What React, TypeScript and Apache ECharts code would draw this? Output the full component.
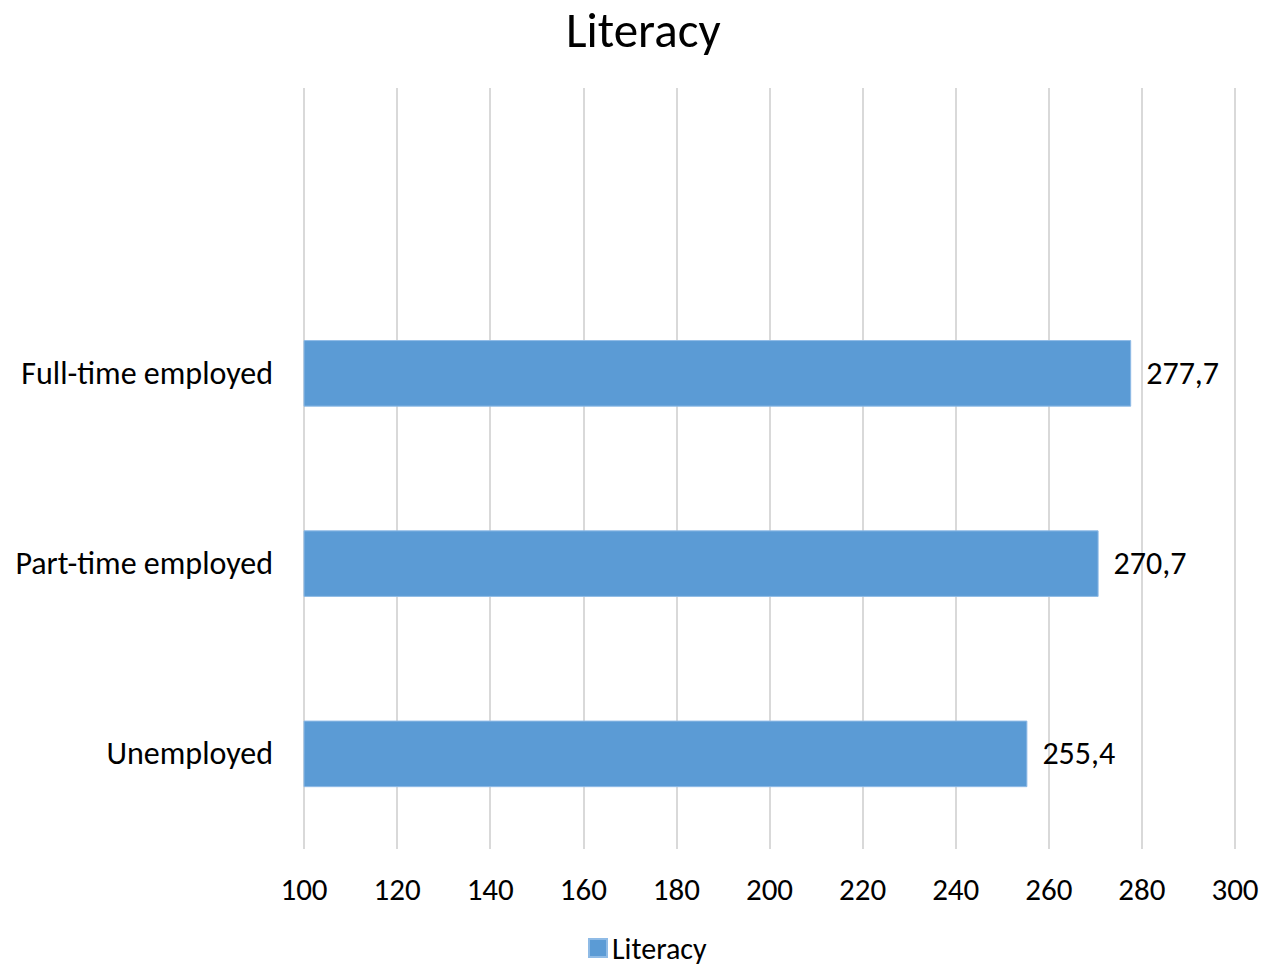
import React, { useEffect, useRef } from "react";
import * as echarts from "echarts";

const categories = ["Unemployed", "Part-time employed", "Full-time employed", ""];
const literacy: (number | null)[] = [255.4, 270.7, 277.7, null];
const seriesName = "Literacy";
const titleText = "Literacy";

const FONT = "Carlito, Calibri, Lato, sans-serif";

export default function App() {
  const ref = useRef<HTMLDivElement>(null);
  useEffect(() => {
    if (!ref.current) return;
    const chart = echarts.init(ref.current, undefined, { renderer: "svg" });
    chart.setOption({
      animation: false,
      backgroundColor: "#ffffff",
      title: {
        text: titleText,
        left: 561,
        top: 0,
        textStyle: { fontFamily: FONT, fontSize: 49, fontWeight: "normal", color: "#000000" },
      },
      legend: {
        top: 928,
        left: 583,
        itemWidth: 18,
        itemHeight: 18,
        icon: "rect",
        itemGap: 8,
        textStyle: { fontFamily: FONT, fontSize: 30, color: "#000000" },
        data: [seriesName],
      },
      grid: { left: 304, right: 28, top: 88, bottom: 118, containLabel: false },
      xAxis: {
        type: "value",
        min: 100,
        max: 300,
        interval: 20,
        axisLine: { show: false },
        axisTick: { show: false },
        splitLine: { show: true, lineStyle: { color: "#d9d9d9", width: 2 } },
        axisLabel: { fontFamily: FONT, fontSize: 31, color: "#000000", margin: 24 },
      },
      yAxis: {
        type: "category",
        data: categories,
        axisLine: { show: false },
        axisTick: { show: false },
        splitLine: { show: false },
        axisLabel: { fontFamily: FONT, fontSize: 32, color: "#000000", margin: 31 },
      },
      series: [
        {
          name: seriesName,
          type: "bar",
          data: literacy,
          barWidth: "35%",
          itemStyle: { color: "#5b9bd5", borderColor: "#8fbbe6", borderWidth: 1 },
          label: {
            show: true,
            position: "right",
            distance: 15,
            fontFamily: FONT,
            fontSize: 32,
            color: "#000000",
            formatter: (p: any) =>
              p.value == null ? "" : Number(p.value).toFixed(1).replace(".", ","),
          },
        },
      ],
    });
    return () => chart.dispose();
  }, []);
  return (
    <div
      ref={ref}
      style={{ position: "fixed", left: 0, top: 0, width: 1263, height: 967 }}
    />
  );
}
